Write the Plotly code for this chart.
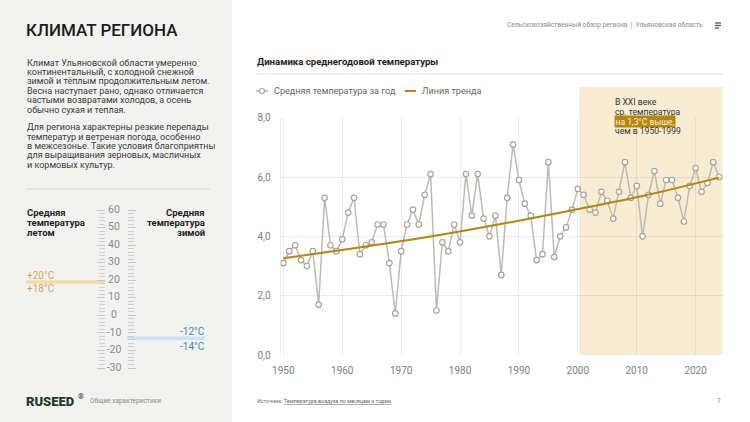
import plotly.graph_objects as go

# ---------------- data ----------------
years = list(range(1950, 2025))
temps = [3.1, 3.5, 3.7, 3.2, 3.0, 3.5, 1.7, 5.3, 3.7, 3.5,
         3.9, 4.8, 5.3, 3.4, 3.7, 3.8, 4.4, 4.4, 3.1, 1.4,
         3.5, 4.4, 4.9, 4.4, 5.4, 6.1, 1.5, 3.8, 3.5, 4.4,
         3.8, 6.1, 4.7, 6.1, 4.6, 4.0, 4.7, 2.7, 5.3, 7.1,
         5.9, 5.1, 4.7, 3.2, 3.4, 6.5, 3.3, 4.0, 4.3, 4.9,
         5.6, 5.4, 4.9, 4.8, 5.5, 5.2, 4.6, 5.5, 6.5, 5.3,
         5.7, 4.0, 5.4, 6.2, 5.1, 5.9, 5.9, 5.3, 4.5, 5.7,
         6.3, 5.5, 5.8, 6.5, 6.0]
trend_years = [1950, 1962, 1974, 1986, 1998, 2011, 2024]
trend_vals = [3.26, 3.60, 3.96, 4.38, 4.84, 5.36, 5.98]

x_ticks = [1950, 1960, 1970, 1980, 1990, 2000, 2010, 2020]
y_ticks = [0, 2, 4, 6, 8]
y_ticktext = ["0,0", "2,0", "4,0", "6,0", "8,0"]

highlight_start = 2000.25

scale_vals = [60, 50, 40, 30, 20, 10, 0, -10, -20, -30]
summer_range = [18, 20]
winter_range = [-14, -12]
summer_labels = ["+20°C", "+18°C"]
winter_labels = ["-12°C", "-14°C"]

intro_lines = [
    "Климат Ульяновской области умеренно",
    "континентальный, с холодной снежной",
    "зимой и тёплым продолжительным летом.",
    "Весна наступает рано, однако отличается",
    "частыми возвратами холодов, а осень",
    "обычно сухая и теплая.",
]
intro_lines2 = [
    "Для региона характерны резкие перепады",
    "температур и ветреная погода, особенно",
    "в межсезонье. Такие условия благоприятны",
    "для выращивания зерновых, масличных",
    "и кормовых культур.",
]
note_lines = ["В XXI веке", "ср. температура", "на 1,3°C выше,", "чем в 1950-1999"]

# ---------------- helpers ----------------
W, H = 750, 422
FONT = "Roboto, 'Noto Sans', sans-serif"


def X(p):
    return p / W


def Y(p):
    return 1 - p / H


annotations = []


def ann(text, x, y, size, color, xanchor="left", weight=None, bg=None, xref="paper", yref="paper",
        yanchor="middle", yshift=0):
    f = dict(family=FONT, size=size, color=color)
    if weight:
        f["weight"] = weight
    d = dict(text=text, x=x if xref != "paper" else X(x), y=y if yref != "paper" else Y(y),
             xref=xref, yref=yref, xanchor=xanchor, yanchor=yanchor, showarrow=False,
             font=f, borderpad=0 if bg is None else 0.5, yshift=yshift)
    if bg:
        d["bgcolor"] = bg
    annotations.append(d)


fig = go.Figure()

fig.add_trace(go.Scatter(
    x=years, y=temps, mode="lines+markers", xaxis="x", yaxis="y",
    line=dict(color="#bdbab1", width=1.5),
    marker=dict(size=5.5, color="white", line=dict(color="#a8a59b", width=1.2)),
    hoverinfo="skip", showlegend=False))
fig.add_trace(go.Scatter(
    x=trend_years, y=trend_vals, mode="lines", xaxis="x", yaxis="y",
    line=dict(color="#b5860e", width=2, shape="spline"),
    hoverinfo="skip", showlegend=False))

fig.add_trace(go.Scatter(
    x=[114] * len(scale_vals), y=scale_vals, mode="text", xaxis="x2", yaxis="y2",
    text=[str(v) for v in scale_vals], cliponaxis=False,
    textfont=dict(family=FONT, size=10.5, color="#8c8c8c"),
    hoverinfo="skip", showlegend=False))
fig.add_trace(go.Scatter(x=[114], y=[None], mode="markers", xaxis="x2", yaxis="y3",
                         hoverinfo="skip", showlegend=False))

shapes = []
shapes.append(dict(type="rect", xref="paper", yref="paper", x0=0, x1=X(232), y0=0, y1=1,
                   fillcolor="#f2f2f0", line=dict(width=0), layer="below"))
shapes.append(dict(type="line", xref="paper", yref="paper", x0=X(26), x1=X(210), y0=Y(189), y1=Y(189),
                   line=dict(color="#d8d8d4", width=1)))
shapes.append(dict(type="rect", xref="paper", yref="y2", x0=X(26), x1=X(104.5),
                   y0=summer_range[0], y1=summer_range[1],
                   fillcolor="#f6dba9", line=dict(width=0), layer="below"))
shapes.append(dict(type="rect", xref="paper", yref="y2", x0=X(127), x1=X(205),
                   y0=winter_range[0], y1=winter_range[1],
                   fillcolor="#cde2f5", line=dict(width=0), layer="below"))
shapes.append(dict(type="rect", xref="x", yref="paper", x0=highlight_start, x1=2024.6,
                   y0=Y(355), y1=Y(87), fillcolor="#f8ecd3", line=dict(width=0), layer="below"))
shapes.append(dict(type="line", xref="paper", yref="paper", x0=X(256), x1=X(723), y0=Y(74), y1=Y(74),
                   line=dict(color="#e0e0e0", width=1)))
shapes.append(dict(type="line", xref="paper", yref="paper", x0=X(256), x1=X(268), y0=Y(91), y1=Y(91),
                   line=dict(color="#bdbab1", width=1.5)))
shapes.append(dict(type="circle", xref="paper", yref="paper", x0=X(259.5), x1=X(264.5), y0=Y(93.5),
                   y1=Y(88.5), fillcolor="white", line=dict(color="#a8a59b", width=1.2)))
shapes.append(dict(type="line", xref="paper", yref="paper", x0=X(405), x1=X(416), y0=Y(91), y1=Y(91),
                   line=dict(color="#b5860e", width=2)))
for yy, xe in [(23, 721), (25.5, 721), (28, 719)]:
    shapes.append(dict(type="line", xref="paper", yref="paper", x0=X(715), x1=X(xe), y0=Y(yy), y1=Y(yy),
                       line=dict(color="#555555", width=1.3)))

# ---------------- texts ----------------
ann("КЛИМАТ РЕГИОНА", 25, 30, 17, "#1b1b1b", weight=500)
for i, t in enumerate(intro_lines):
    ann(t, 26, 62.5 + i * 9.4, 9, "#3a3a3a")
for i, t in enumerate(intro_lines2):
    ann(t, 26, 127.3 + i * 9.35, 9, "#3a3a3a")

for i, t in enumerate(["Средняя", "температура", "летом"]):
    ann(t, 26, 212 + i * 10.2, 9.5, "#1e1e1e", weight="bold")
for i, t in enumerate(["Средняя", "температура", "зимой"]):
    ann(t, 206, 212 + i * 10.2, 9.5, "#1e1e1e", xanchor="right", weight="bold")

ann(summer_labels[0], 26, summer_range[1], 10, "#d9a55c", yref="y2", yanchor="bottom", yshift=-1.5)
ann(summer_labels[1], 26, summer_range[0], 10, "#d9a55c", yref="y2", yanchor="top", yshift=1.5)
ann(winter_labels[0], 206, winter_range[1], 10, "#4a86b9", xanchor="right", yref="y2", yanchor="bottom", yshift=-2)
ann(winter_labels[1], 206, winter_range[0], 10, "#4a86b9", xanchor="right", yref="y2", yanchor="top", yshift=0)

ann("RUSEED", 25, 401, 13, "#1f3b2e", weight=900)
ann("®", 76.5, 396, 7.5, "#1f3b2e", weight="bold")
ann("Общие характеристики", 89, 401, 6.5, "#8a8a8a")

ann("Сельскохозяйственный обзор региона  |  Ульяновская область", 704, 25, 6.6, "#8a8a8a", xanchor="right")
ann("Динамика среднегодовой температуры", 256, 62, 9.6, "#1e1e1e", weight="bold")
ann("Средняя температура за год", 273, 91, 9.1, "#666666")
ann("Линия тренда", 421, 91, 9.1, "#666666")

note_y = [101.5, 111.5, 121.5, 131]
for i, t in enumerate(note_lines):
    if i == 2:
        ann(t, 614, note_y[i], 8.6, "#fbf1dc", bg="#b5860e")
    else:
        ann(t, 614, note_y[i], 8.6, "#333333")

ann("Источник: <span style='text-decoration:underline'>Температура воздуха по месяцам и годам</span>",
    256, 401, 5.4, "#666666")
ann("7", 722, 401, 6.5, "#888888", xanchor="right")

fig.update_layout(
    autosize=True, margin=dict(l=0, r=0, t=0, b=0, autoexpand=False),
    paper_bgcolor="white", plot_bgcolor="rgba(0,0,0,0)",
    font=dict(family=FONT),
    showlegend=False,
    shapes=shapes, annotations=annotations,
    xaxis=dict(domain=[X(280.7), X(722.7)], range=[1949.55, 2024.6], tickvals=x_ticks,
               showgrid=True, gridcolor="rgba(0,0,0,0.07)", gridwidth=1, zeroline=False,
               showline=False, ticks="", tickfont=dict(family=FONT, size=10, color="#808080"),
               ticklabelstandoff=8, anchor="y", automargin=False),
    yaxis=dict(domain=[Y(355), Y(117.7)], range=[0, 8], tickvals=y_ticks, ticktext=y_ticktext,
               showgrid=True, gridcolor="rgba(0,0,0,0.07)", gridwidth=1, zeroline=False,
               showline=True, linecolor="rgba(0,0,0,0.07)", ticks="", automargin=False,
               tickfont=dict(family=FONT, size=10, color="#808080"), ticklabelstandoff=7, anchor="x"),
    xaxis2=dict(domain=[0, X(232)], range=[0, 232], visible=False, anchor="y2"),
    yaxis2=dict(domain=[Y(368), Y(210)], range=[-30, 60], anchor="free", position=X(104.5),
                side="left", showgrid=False, zeroline=False, showline=False, showticklabels=False,
                ticks="outside", ticklen=8, tickwidth=1, tickcolor="#c8c8c8", dtick=10, tick0=0,
                automargin=False,
                minor=dict(ticks="outside", ticklen=5.5, tickwidth=1, tickcolor="#d0d0d0", dtick=2,
                           showgrid=False)),
    yaxis3=dict(overlaying="y2", range=[-30, 60], anchor="free", position=X(127),
                side="right", showgrid=False, zeroline=False, showline=False, showticklabels=False,
                ticks="outside", ticklen=8, tickwidth=1, tickcolor="#c8c8c8", dtick=10, tick0=0,
                automargin=False,
                minor=dict(ticks="outside", ticklen=5.5, tickwidth=1, tickcolor="#d0d0d0", dtick=2,
                           showgrid=False)),
)

post = ("document.documentElement.style.margin='0';document.body.style.margin='0';"
        "document.body.style.overflow='hidden';"
        "var gd=document.getElementById('{plot_id}');"
        "gd.style.position='fixed';gd.style.left='0px';gd.style.top='0px';"
        "gd.style.width='100vw';gd.style.height='100vh';"
        "Plotly.Plots.resize(gd);")
fig.write_html("out.html", config={"displayModeBar": False, "responsive": True},
               default_width="100vw", default_height="100vh", post_script=post)
